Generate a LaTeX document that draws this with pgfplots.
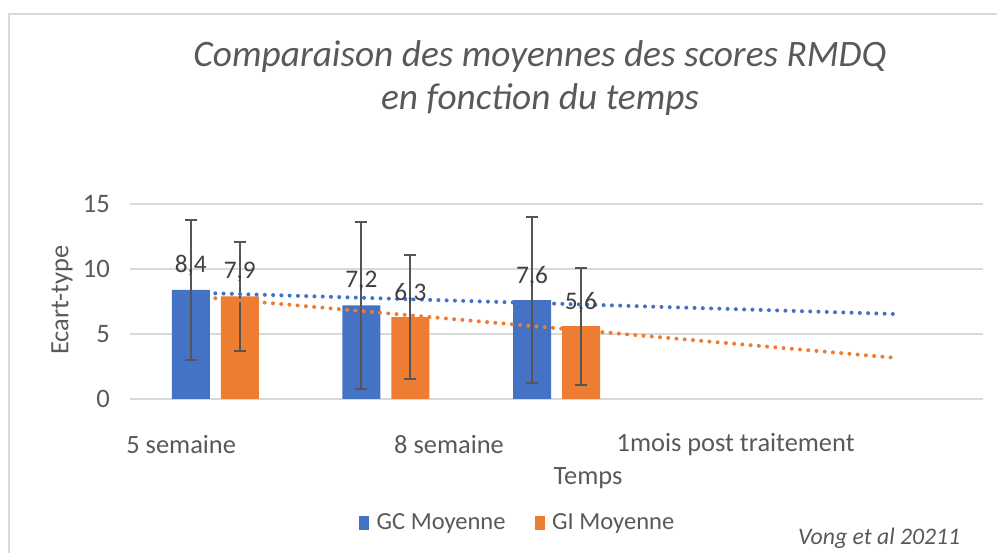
\documentclass[border=0pt]{standalone}
\usepackage{pgfplots}
\usepackage{pgfplotstable}
\pgfplotsset{compat=1.18}
\usepackage{fontspec}
\setmainfont{Carlito}
\definecolor{cblue}{HTML}{4472C4}
\definecolor{corange}{HTML}{ED7D31}
\definecolor{tgray}{HTML}{595959}
\definecolor{ggray}{HTML}{D9D9D9}
\definecolor{egray}{HTML}{555555}
\pgfplotstableread{
x y e
1 8.4 5.4
2 7.2 6.4
3 7.6 6.4
}\gc
\pgfplotstableread{
x y e
1 7.9 4.2
2 6.3 4.8
3 5.6 4.5
}\gi
\begin{document}
\begin{tikzpicture}
\path[use as bounding box] (0,0) rectangle (747.75pt,414.75pt);
\draw[ggray, line width=1.1pt] (6.75pt,-2pt) -- (6.75pt,404.25pt) -- (750pt,404.25pt);
\node[align=center, text=tgray, font=\fontsize{28}{32.5}\selectfont\itshape] at (405pt,356.25pt) {Comparaison des moyennes des scores RMDQ\\en fonction du temps};
\node[anchor=east, text=tgray, font=\fontsize{17.8}{20}\selectfont\itshape] at (723.75pt,11.25pt) {Vong et al 20211};
\begin{axis}[
  at={(97.5pt,115.5pt)}, anchor=south west,
  scale only axis, width=639.75pt, height=146.25pt,
  xmin=0.5, xmax=5.5, ymin=0, ymax=15,
  ytick={0,5,10,15},
  xtick={0.8,2.37,4.05},
  xticklabels={5 semaine,8 semaine,1mois post traitement},
  major tick length=0pt,
  axis line style={draw=none},
  ymajorgrids, grid style={color=ggray, line width=1.1pt},
  ybar=8.25pt, bar width=28.5pt,
  tick label style={text=tgray, font=\fontsize{19.8}{22}\selectfont},
  /pgf/number format/assume math mode=true,
  xticklabel style={anchor=center, yshift=-34.5pt},
  yticklabel style={anchor=east, xshift=-11.5pt, font=\fontsize{20}{22}\selectfont},
  xlabel={Temps}, ylabel={Ecart-type},
  label style={text=tgray, font=\fontsize{19.8}{22}\selectfont},
  xlabel style={at={(axis description cs:0.537,-0.405)}, anchor=center},
  ylabel style={at={(axis description cs:-0.0797,0.508)}, anchor=center, rotate=0},
  legend style={at={(axis description cs:0.455,-0.636)}, anchor=center, draw=none, legend columns=2,
    font=\fontsize{18.4}{20}\selectfont, text=tgray,
    /tikz/every even column/.append style={column sep=20pt}},
  legend image code/.code={\fill[#1] (0pt,-5pt) rectangle (7.5pt,5pt); \path (11pt,0pt);},
  error bars/y dir=both, error bars/y explicit,
  error bars/error bar style={egray, line width=1.5pt},
  error bars/error mark options={egray, line width=1.5pt, mark size=4.5pt, rotate=90},
  clip=false,
]
\addplot[fill=cblue, draw=none]
  table[x=x, y=y, y error=e] {\gc};
\addlegendentry{GC Moyenne}
\addplot[fill=corange, draw=none]
  table[x=x, y=y, y error=e] {\gi};
\addlegendentry{GI Moyenne}
\addplot[sharp plot, forget plot, cblue, line width=3pt, line cap=round, dash pattern=on 0pt off 6.2pt, error bars/y dir=none]
  coordinates {(1,8.13) (5,6.53)};
\addplot[sharp plot, forget plot, corange, line width=3pt, line cap=round, dash pattern=on 0pt off 6.2pt, error bars/y dir=none]
  coordinates {(1,7.75) (5,3.15)};
\addplot[only marks, mark=none, forget plot, error bars/y dir=none, bar shift=0pt,
  nodes near coords,
  every node near coord/.append style={anchor=center, yshift=18pt, text=black!75, font=\fontsize{19}{20}\selectfont,
    /pgf/number format/.cd, fixed, fixed zerofill, precision=1, use comma}]
  table[x expr=\thisrow{x}-0.1436, y=y] {\gc};
\addplot[only marks, mark=none, forget plot, error bars/y dir=none, bar shift=0pt,
  nodes near coords,
  every node near coord/.append style={anchor=center, yshift=18pt, text=black!75, font=\fontsize{19}{20}\selectfont,
    /pgf/number format/.cd, fixed, fixed zerofill, precision=1, use comma}]
  table[x expr=\thisrow{x}+0.1436, y=y] {\gi};
\end{axis}
\end{tikzpicture}
\end{document}
